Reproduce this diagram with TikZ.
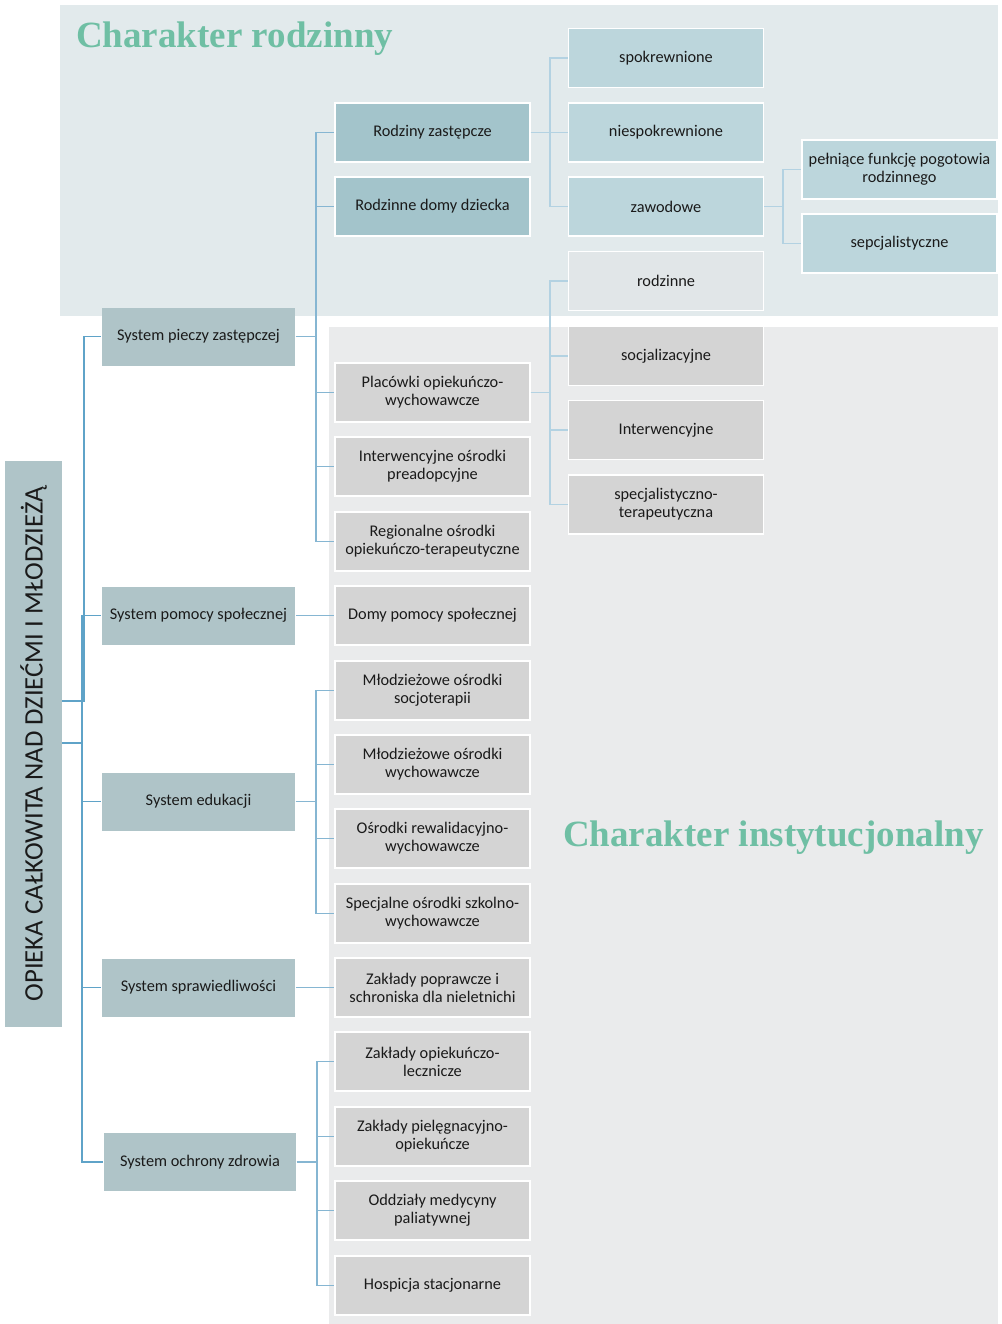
\documentclass[tikz,border=0pt]{standalone}
\usepackage{fontspec}
\setmainfont{Carlito}
\newfontfamily\titlefont{Liberation Serif}
\definecolor{topbg}{HTML}{E2EAEC}
\definecolor{botbg}{HTML}{EAEBEC}
\definecolor{darkteal}{HTML}{A3C4CB}
\definecolor{lightteal}{HTML}{BCD6DC}
\definecolor{palebox}{HTML}{E1E6E8}
\definecolor{sysfill}{HTML}{AFC4C8}
\definecolor{greybox}{HTML}{D4D4D4}
\definecolor{rootline}{HTML}{5FA3C8}
\definecolor{midline}{HTML}{86B6D2}
\definecolor{paleline}{HTML}{B3D2E2}
\definecolor{titlegreen}{RGB}{111,191,164}
\definecolor{txt}{HTML}{1A1A1A}
\tikzset{
  x=1pt, y=-1pt,
  box/.style={draw=white, line width=1.5pt, minimum width=195pt, minimum height=59pt,
    inner sep=0pt, align=center, text=txt, font=\fontsize{16.3}{18}\selectfont},
  sysbox/.style={box, fill=sysfill, minimum width=193pt, minimum height=58pt, draw=none},
  famA/.style={box, fill=darkteal},
  famB/.style={box, fill=lightteal},
  famC/.style={box, fill=palebox},
  inst/.style={box, fill=greybox},
  rootconn/.style={draw=rootline, line width=1.6pt},
  conn/.style={draw=midline, line width=1.6pt},
  lconn/.style={draw=paleline, line width=1.6pt},
  title/.style={font=\titlefont\bfseries\fontsize{37}{40}\selectfont, text=titlegreen, inner sep=0pt}
}
\begin{document}
\begin{tikzpicture}
\useasboundingbox (0,0) rectangle (1001,1324);
\fill[topbg] (60,5) rectangle (998,316);
\fill[botbg] (329,327) rectangle (998,1324);

\node[title, anchor=base west] (t1) at (76,48) {Charakter rodzinny};
\node[title, anchor=base west] (t2) at (563,846) {Charakter instytucjonalny};

% root
\node[fill=sysfill, minimum width=566pt, minimum height=57pt, inner sep=0pt, rotate=90,
  font=\fontsize{26.7}{28}\selectfont, text=txt] (root) at (33.5,744)
  {OPIEKA CAŁKOWITA NAD DZIEĆMI I MŁODZIEŻĄ};

% systems
\node[sysbox] (s1) at (198.5,336.5) {System pieczy zastępczej};
\node[sysbox] (s2) at (198.5,615.5) {System pomocy społecznej};
\node[sysbox] (s3) at (198.5,801.5) {System edukacji};
\node[sysbox] (s4) at (198.5,987.5) {System sprawiedliwości};
\node[sysbox, minimum width=192pt] (s5) at (200,1162) {System ochrony zdrowia};

% column B
\node[famA] (b1) at (432.5,132.5) {Rodziny zastępcze};
\node[famA] (b2) at (432.5,206.5) {Rodzinne domy dziecka};
\node[inst] (b3) at (432.5,392.5) {Placówki opiekuńczo-\\wychowawcze};
\node[inst] (b4) at (432.5,466.5) {Interwencyjne ośrodki\\preadopcyjne};
\node[inst] (b5) at (432.5,541.5) {Regionalne ośrodki\\opiekuńczo-terapeutyczne};
\node[inst] (b6) at (432.5,615.5) {Domy pomocy społecznej};
\node[inst] (b7) at (432.5,690.5) {Młodzieżowe ośrodki\\socjoterapii};
\node[inst] (b8) at (432.5,764.5) {Młodzieżowe ośrodki\\wychowawcze};
\node[inst] (b9) at (432.5,838.5) {Ośrodki rewalidacyjno-\\wychowawcze};
\node[inst] (b10) at (432.5,913.5) {Specjalne ośrodki szkolno-\\wychowawcze};
\node[inst] (b11) at (432.5,987.5) {Zakłady poprawcze i\\schroniska dla nieletnichi};
\node[inst] (b12) at (432.5,1061.5) {Zakłady opiekuńczo-\\lecznicze};
\node[inst] (b13) at (432.5,1136.5) {Zakłady pielęgnacyjno-\\opiekuńcze};
\node[inst] (b14) at (432.5,1210.5) {Oddziały medycyny\\paliatywnej};
\node[inst] (b15) at (432.5,1285.5) {Hospicja stacjonarne};

% column C
\node[famB] (c1) at (666,58) {spokrewnione};
\node[famB] (c2) at (666,132.5) {niespokrewnione};
\node[famB] (c3) at (666,206.5) {zawodowe};
\node[famC] (c4) at (666,281) {rodzinne};
\node[inst] (c5) at (666,356) {socjalizacyjne};
\node[inst] (c6) at (666,430) {Interwencyjne};
\node[inst] (c7) at (666,504.5) {specjalistyczno-\\terapeutyczna};

% column D
\node[famB] (d1) at (899.5,169.5) {pełniące funkcję pogotowia\\rodzinnego};
\node[famB] (d2) at (899.5,243.5) {sepcjalistyczne};

% root connectors
\foreach \s in {s1,s2} \draw[rootconn] ([yshift=43pt]root.south) -- ++(21.5,0) |- (\s.west);
\foreach \s in {s2,s3,s4,s5} \draw[rootconn] ([yshift=1pt]root.south) -- ++(19.5,0) |- (\s.west);

% system connectors
\foreach \c in {b1,b2,b3,b4,b5} \draw[conn] (s1.east) -- ++(20,0) |- (\c.west);
\draw[conn] (s2.east) -- (b6.west);
\foreach \c in {b7,b8,b9,b10} \draw[conn] (s3.east) -- ++(20,0) |- (\c.west);
\draw[conn] (s4.east) -- (b11.west);
\foreach \c in {b12,b13,b14,b15} \draw[conn] (s5.east) -- ++(20,0) |- (\c.west);

% level 3 connectors
\foreach \c in {c1,c2,c3} \draw[lconn] (b1.east) -- ++(19,0) |- (\c.west);
\foreach \c in {c4,c5,c6,c7} \draw[lconn] (b3.east) -- ++(19,0) |- (\c.west);
\foreach \c in {d1,d2} \draw[lconn] (c3.east) -- ++(19,0) |- (\c.west);
\end{tikzpicture}
\end{document}
